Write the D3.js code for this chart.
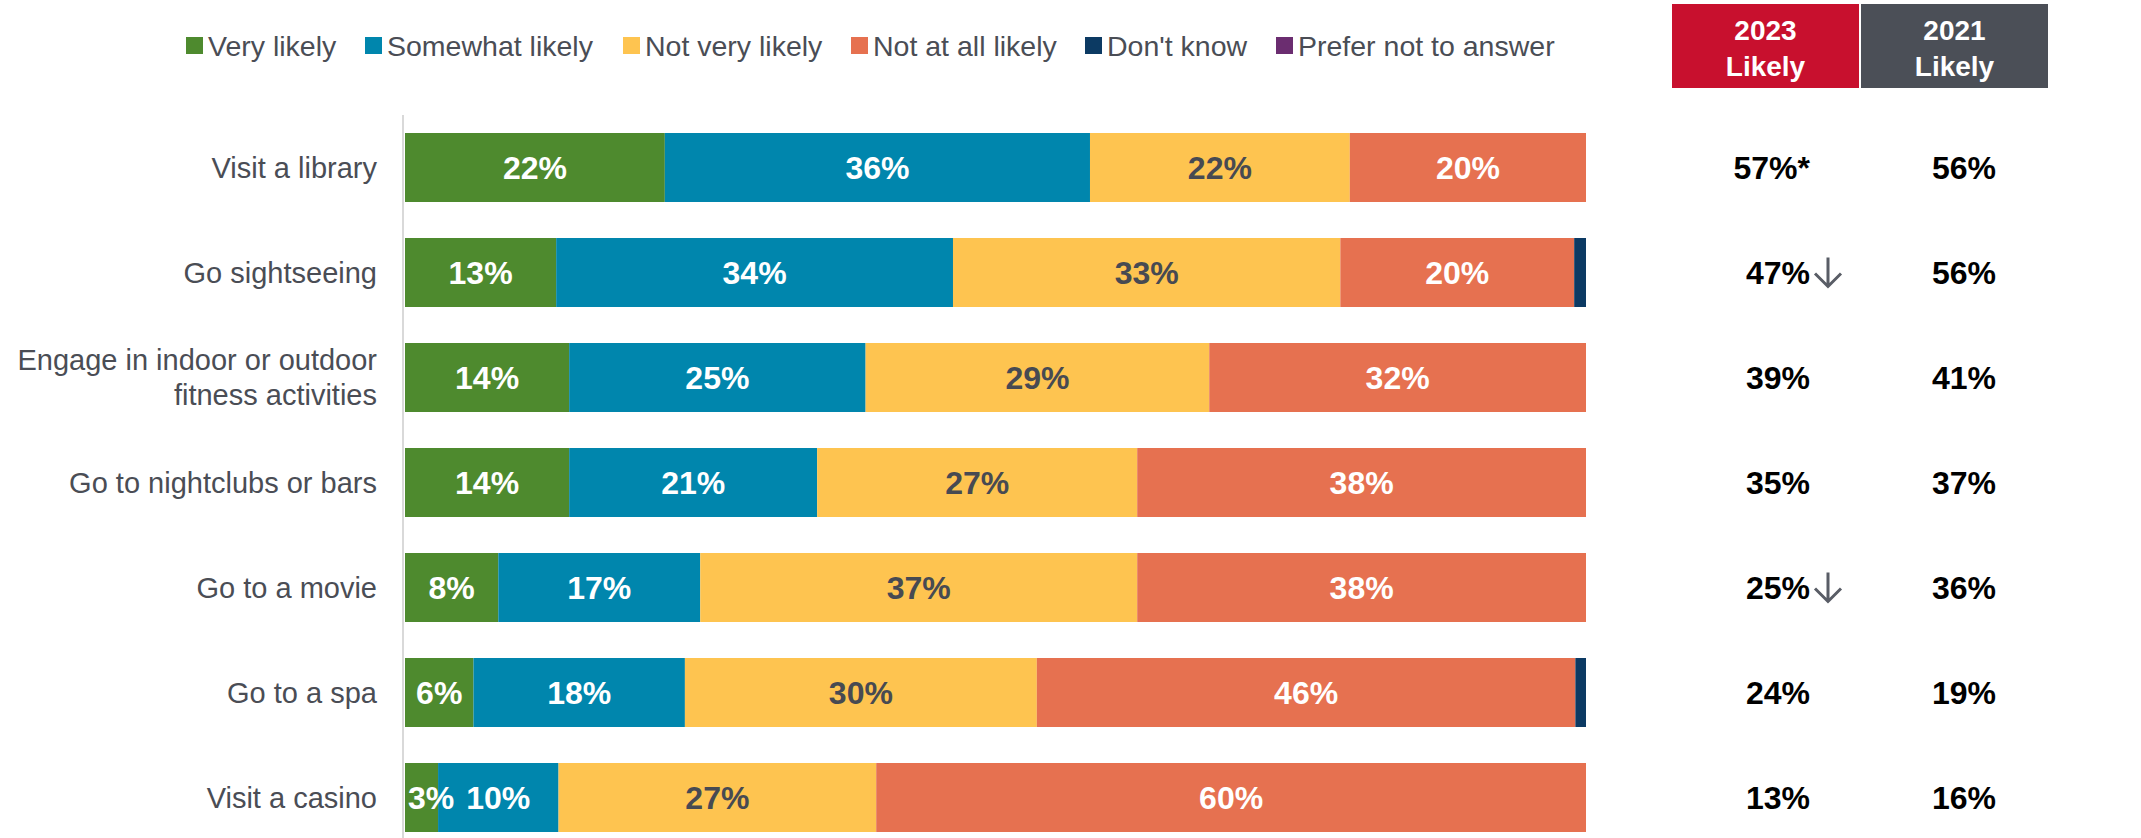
<!DOCTYPE html>
<meta charset="utf-8">
<script src="https://d3js.org/d3.v7.min.js"></script>
<style>
body { margin: 0; background: #fff; }
text { font-family: "Liberation Sans", Arial, sans-serif; }
</style>
<div id="my_dataviz"></div>
<script>
// categories (top to bottom)
var activities = ["Visit a library", "Go sightseeing", "Engage in indoor or outdoor|fitness activities",
  "Go to nightclubs or bars", "Go to a movie", "Go to a spa", "Visit a casino"];
var responses = ["Very likely", "Somewhat likely", "Not very likely", "Not at all likely", "Don't know", "Prefer not to answer"];

// series values (%), one per response
var veryLikely     = [22, 12.8, 13.9, 13.9, 7.9, 5.8, 2.8];
var somewhatLikely = [36, 33.6, 25.1, 21.0, 17.1, 17.9, 10.2];
var notVeryLikely  = [22, 32.8, 29.1, 27.1, 37.0, 29.8, 26.9];
var notAtAll       = [20, 19.8, 31.9, 38.0, 38.0, 45.6, 60.1];
var dontKnow       = [0, 1.0, 0, 0, 0, 0.9, 0];
var preferNot      = [0, 0, 0, 0, 0, 0, 0];

// likely totals
var likely2023 = [57, 47, 39, 35, 25, 24, 13];
var mark2023   = ["*", "down", "", "", "down", "", ""];
var likely2021 = [56, 56, 41, 37, 36, 19, 16];

var colors = ["#4e8a2e", "#0086ad", "#fec450", "#e67150", "#0c3a63", "#6b2d70"];
var labelColors = ["#ffffff", "#ffffff", "#474a52", "#ffffff", "#ffffff", "#ffffff"];

var width = 2141, height = 838;
var svg = d3.select("#my_dataviz").append("svg")
  .attr("width", width).attr("height", height);

var series = [veryLikely, somewhatLikely, notVeryLikely, notAtAll, dontKnow, preferNot];
var rows = activities.map(function(a, i) {
  var r = { name: a };
  responses.forEach(function(k, j) { r[k] = series[j][i]; });
  return r;
});
var stacked = d3.stack().keys(responses)(rows);

var x = d3.scaleLinear().domain([0, 100]).range([405, 1586]);
var y = d3.scaleBand().domain(activities).range([115, 850]).paddingInner(0.343).paddingOuter(0.1715);

// axis line
svg.append("line")
  .attr("x1", 403).attr("x2", 403).attr("y1", 115).attr("y2", height)
  .style("stroke", "#d9d9d9").style("stroke-width", 2);

// bars
var groups = svg.selectAll("g.series")
  .data(stacked).enter().append("g")
  .attr("fill", function(d, i) { return colors[i]; });

groups.selectAll("rect")
  .data(function(d) { return d; })
  .enter().append("rect")
  .attr("x", function(d) { return x(d[0]); })
  .attr("y", function(d) { return y(d.data.name); })
  .attr("width", function(d) { return x(d[1]) - x(d[0]); })
  .attr("height", y.bandwidth());

// bar labels on top of all bars (skip the tiny slivers)
var labelLayer = svg.append("g");
stacked.forEach(function(s, si) {
  labelLayer.selectAll("text.s" + si)
    .data(s.filter(function(d) { return d[1] - d[0] >= 2; }))
    .enter().append("text")
    .attr("class", "s" + si)
    .attr("x", function(d) {
      var c = (x(d[0]) + x(d[1])) / 2;
      return Math.max(c, x(d[0]) + 26); // keep narrow labels off the axis
    })
    .attr("y", function(d) { return y(d.data.name) + y.bandwidth() / 2; })
    .attr("dy", "0.36em")
    .attr("text-anchor", "middle")
    .style("font-size", "32px").style("font-weight", "bold")
    .style("fill", labelColors[si])
    .text(function(d) { return Math.round(d[1] - d[0]) + "%"; });
});

// category labels
activities.forEach(function(a) {
  var lines = a.split("|");
  var t = svg.append("text")
    .attr("text-anchor", "end")
    .style("font-size", "29px").style("fill", "#4a4d55");
  lines.forEach(function(l, i) {
    t.append("tspan")
      .attr("x", 377)
      .attr("y", y(a) + y.bandwidth() / 2 + (i - (lines.length - 1) / 2) * 35)
      .attr("dy", "0.36em")
      .text(l);
  });
});

// legend
var legendX = [186, 365, 623, 851, 1085, 1276];
responses.forEach(function(r, i) {
  svg.append("rect")
    .attr("x", legendX[i]).attr("y", 37).attr("width", 17).attr("height", 17)
    .style("fill", colors[i]);
  svg.append("text")
    .attr("x", legendX[i] + 22).attr("y", 46).attr("dy", "0.36em")
    .style("font-size", "28.5px").style("fill", "#4a4d55")
    .text(r);
});

// header boxes
var heads = [{ x: 1672, fill: "#c8102e", year: "2023" }, { x: 1861, fill: "#4b4f57", year: "2021" }];
heads.forEach(function(h) {
  svg.append("rect").attr("x", h.x).attr("y", 4).attr("width", 187).attr("height", 84).style("fill", h.fill);
  svg.append("text").attr("x", h.x + 93.5).attr("y", 40).attr("text-anchor", "middle")
    .style("font-size", "28px").style("font-weight", "bold").style("fill", "#fff").text(h.year);
  svg.append("text").attr("x", h.x + 93.5).attr("y", 76).attr("text-anchor", "middle")
    .style("font-size", "28px").style("font-weight", "bold").style("fill", "#fff").text("Likely");
});

// likely columns
activities.forEach(function(a, i) {
  var cy = y(a) + y.bandwidth() / 2;
  svg.append("text")
    .attr("x", 1810).attr("y", cy).attr("dy", "0.36em")
    .attr("text-anchor", "end")
    .style("font-size", "32px").style("font-weight", "bold").style("fill", "#000")
    .text(likely2023[i] + "%" + (mark2023[i] == "*" ? "*" : ""));
  if (mark2023[i] == "down") {
    svg.append("path")
      .attr("d", "M1828," + (cy - 15) + "V" + (cy + 14) + "M1815," + (cy + 1) + "L1828," + (cy + 14) + "L1841," + (cy + 1))
      .style("fill", "none").style("stroke", "#595d66").style("stroke-width", 3);
  }
  svg.append("text")
    .attr("x", 1964).attr("y", cy).attr("dy", "0.36em")
    .attr("text-anchor", "middle")
    .style("font-size", "32px").style("font-weight", "bold").style("fill", "#000")
    .text(likely2021[i] + "%");
});
</script>
